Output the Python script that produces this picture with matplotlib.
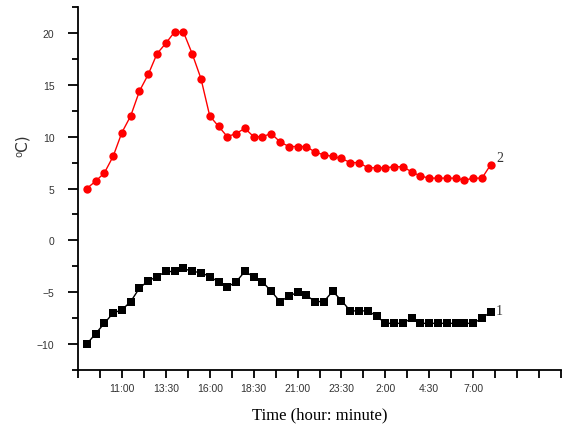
import matplotlib

matplotlib.use("Agg")
import matplotlib.pyplot as plt
import numpy as np

# half-hourly readings, 9:00 to 8:00 next day (hours since midnight of day 1)
hours = [9 + 0.5 * i for i in range(47)]

# curve 1 (black squares)
series_1 = [
    -10, -9, -8, -7, -6.7, -5.9, -4.6, -3.9, -3.5, -3.0,
    -3.0, -2.7, -3.0, -3.1, -3.5, -4.0, -4.5, -4.0, -3.0, -3.5,
    -4.0, -4.9, -5.9, -5.4, -5.0, -5.3, -5.9, -5.9, -4.9, -5.8,
    -6.8, -6.8, -6.8, -7.3, -8.0, -8.0, -8.0, -7.5, -8.0, -8.0,
    -8.0, -8.0, -8.0, -8.0, -8.0, -7.5, -6.9,
]

# curve 2 (red circles)
series_2 = [
    5.0, 5.7, 6.5, 8.1, 10.4, 12.0, 14.4, 16.0, 18.0, 19.0,
    20.1, 20.1, 18.0, 15.6, 12.0, 11.0, 10.0, 10.3, 10.8, 10.0,
    10.0, 10.3, 9.5, 9.05, 9.05, 9.05, 8.5, 8.25, 8.1, 7.9,
    7.5, 7.5, 7.0, 7.0, 7.0, 7.1, 7.1, 6.6, 6.2, 6.0,
    6.0, 6.0, 6.0, 5.8, 6.0, 6.0, 7.3,
]

tick_hours = [8.5 + 1.25 * i for i in range(23)]
label_hours = [11, 13.5, 16, 18.5, 21, 23.5, 26, 28.5, 31]
label_texts = ["11:00", "13:30", "16:00", "18:30", "21:00", "23:30", "2:00", "4:30", "7:00"]


fig = plt.figure(figsize=(5.64, 4.35), dpi=100)
ax = fig.add_axes([0.1383, 0.1471, 0.8564, 0.8345])

ax.plot(hours, series_2, color="#ff0000", lw=1.0, marker="o", ms=6,
        markeredgewidth=0)
ax.plot(hours, series_1, color="black", lw=1.0, marker="s", ms=5.5,
        markeredgewidth=0)

ax.set_xlim(8.5, 36)
ax.set_ylim(-12.5, 22.5)

ax.set_xticks(tick_hours)
ax.set_xticklabels([label_texts[label_hours.index(t)] if t in label_hours else ""
                    for t in tick_hours])
ax.set_yticks([-10, -5, 0, 5, 10, 15, 20])
ax.set_yticks(np.arange(-12.5, 22.6, 2.5), minor=True)

for s in ["top", "right"]:
    ax.spines[s].set_visible(False)
for s in ["left", "bottom"]:
    ax.spines[s].set_linewidth(1.3)

ax.tick_params(axis="x", direction="out", length=6, width=1.3, labelsize=7.5,
               labelcolor="#333333", pad=3)
ax.tick_params(axis="y", which="major", direction="out", length=7, width=1.3,
               labelsize=7.5, labelcolor="#333333", pad=10)
ax.tick_params(axis="y", which="minor", direction="out", length=4, width=1.3)
for lab in ax.get_xticklabels() + ax.get_yticklabels():
    lab.set_family("Liberation Sans")

ax.set_xlabel("Time (hour: minute)", family="Liberation Serif", fontsize=12,
              labelpad=10)
fig.text(0.04, 0.665, "⁰C)", rotation=90, ha="center", va="center",
         family=["DejaVu Sans"], fontsize=11, color="#333333")

ax.text(32.3, series_2[-1] + 0.7, "2", family="Liberation Serif", fontsize=10,
        color="#333333", va="center")
ax.text(32.3, series_1[-1] + 0.1, "1", family="Liberation Serif", fontsize=10,
        color="#333333", va="center")

fig.savefig("out.png", dpi=100)
